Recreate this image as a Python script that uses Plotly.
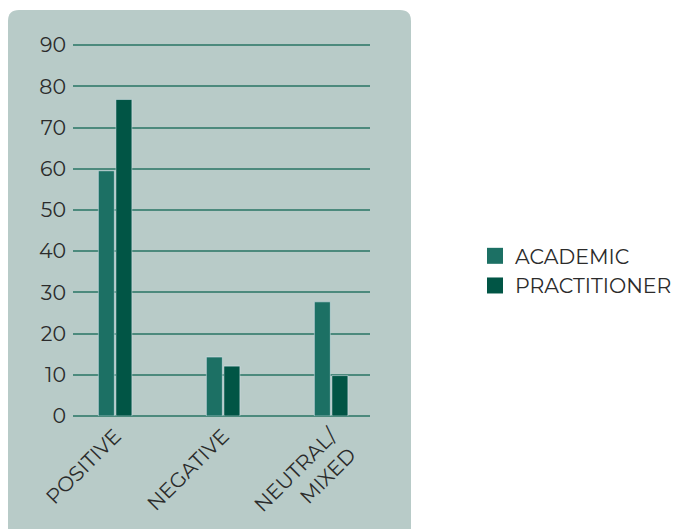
import plotly.graph_objects as go

categories = ["POSITIVE", "NEGATIVE", "NEUTRAL/<br>MIXED"]
academic = [59.5, 14.3, 27.7]
practitioner = [76.8, 12.1, 9.8]
y_ticks = [0, 10, 20, 30, 40, 50, 60, 70, 80, 90]
series_names = ["ACADEMIC", "PRACTITIONER"]
series_colors = ["#1c7064", "#015545"]

W, H = 675, 529
ml, mr, mt, mb = 73, W - 370, 41, H - 416
pw, ph = W - ml - mr, H - mt - mb

def px_x(x):
    return (x - ml) / pw

def px_y(y):
    return (H - mb - y) / ph

# rounded background panel (pixel geometry -> paper coords)
x0, x1, y0, y1, r = 8, 411, 10, 560, 11
path = (
    f"M {px_x(x0+r)},{px_y(y0)} L {px_x(x1-r)},{px_y(y0)} "
    f"Q {px_x(x1)},{px_y(y0)} {px_x(x1)},{px_y(y0+r)} "
    f"L {px_x(x1)},{px_y(y1)} L {px_x(x0)},{px_y(y1)} "
    f"L {px_x(x0)},{px_y(y0+r)} Q {px_x(x0)},{px_y(y0)} {px_x(x0+r)},{px_y(y0)} Z"
)

fig = go.Figure()
for name, vals, col in zip(series_names, [academic, practitioner], series_colors):
    fig.add_trace(go.Bar(name=name, x=categories, y=vals, marker_color=col,
                         showlegend=False, legendgroup=name))
# legend entries with larger square swatches
for name, col in zip(series_names, series_colors):
    fig.add_trace(go.Scatter(name=name, x=[None], y=[None], mode="markers",
                             marker=dict(symbol="square", size=16, color=col),
                             legendgroup=name, showlegend=True))

font_family = "Montserrat, 'Noto Sans', 'Open Sans', sans-serif"
fig.update_layout(
    width=W, height=H,
    margin=dict(l=ml, r=mr, t=mt, b=mb, autoexpand=False),
    paper_bgcolor="white",
    plot_bgcolor="rgba(0,0,0,0)",
    barmode="group",
    bargap=0.675,
    bargroupgap=0.09,
    font=dict(family=font_family, size=18, color="#2b2b2b"),
    shapes=[dict(type="path", path=path, xref="paper", yref="paper",
                 fillcolor="#b8cbc8", line=dict(width=0), layer="below")],
    legend=dict(
        xref="container", yref="container",
        x=475 / W, y=1 - 236 / H, xanchor="left", yanchor="top",
        font=dict(size=20.5, color="#2b2b2b"),
        bgcolor="rgba(0,0,0,0)",
        itemsizing="trace",
        tracegroupgap=0,
    ),
    xaxis=dict(
        range=[-0.39, 2.36],
        tickangle=-45,
        showgrid=False,
        showline=False,
        ticks="",
        automargin=False,
        ticklabelstandoff=3,
        tickfont=dict(size=20.5, color="#2b2b2b"),
    ),
    yaxis=dict(
        range=[0, 91],
        tickvals=y_ticks,
        showgrid=True,
        gridcolor="#4c8a7d",
        gridwidth=2,
        zeroline=True,
        zerolinecolor="#4c8a7d",
        zerolinewidth=2,
        ticks="",
        automargin=False,
        ticklabelstandoff=6,
        tickfont=dict(size=20.5, color="#2b2b2b"),
    ),
)

fig.write_html("out.html")
